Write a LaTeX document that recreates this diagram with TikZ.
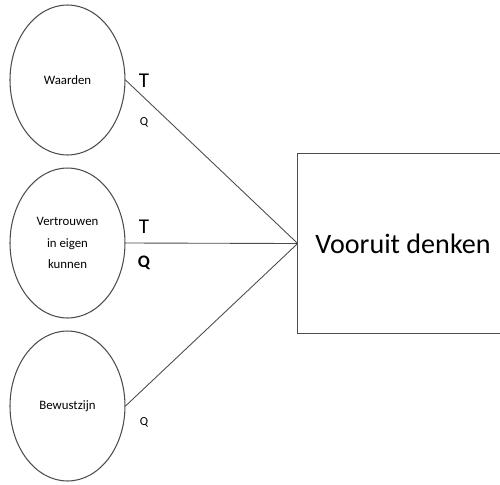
\documentclass[tikz,border=0pt]{standalone}
\usepackage{fontspec}
\setmainfont{Carlito}
\usepackage{tikz}
\usetikzlibrary{shapes.geometric}

\tikzset{
  factor/.style={ellipse,draw=gray!60!black,line width=0.6pt,minimum width=2.3cm,minimum height=3cm,
    inner sep=0pt,align=center,font=\fontsize{7.3}{12}\selectfont},
  doel/.style={rectangle,minimum width=4.5cm,minimum height=3.58cm},
  titel/.style={font=\fontsize{16}{19}\selectfont},
  link/.style={draw=gray!60!black,line width=0.5pt},
  bigT/.style={font=\fontsize{12}{14}\selectfont},
  smallQ/.style={font=\fontsize{7}{9}\selectfont},
  boldQ/.style={font=\fontsize{10}{12}\selectfont\bfseries}
}

\begin{document}
\begin{tikzpicture}[x=0.02cm,y=-0.02cm]
\useasboundingbox (0,0) rectangle (500,484);
\node[factor](waarden) at (67.5,80){Waarden};
\node[factor](vertrouwen) at (67.5,243){Vertrouwen\\in eigen\\kunnen};
\node[factor](bewustzijn) at (67.5,406){Bewustzijn};
\node[doel](denken) at (410.5,243.5){};
% box runs off the right edge
\draw[gray!60!black,line width=0.6pt](denken.north east)--(denken.north west)--(denken.south west)--(denken.south east);
\node[titel](tekst) at (403,243.5){Vooruit denken};
\draw[link](waarden.east)--(denken.west);
\draw[link](vertrouwen.east)--(denken.west);
\draw[link](bewustzijn.east)--(denken.west);
\node[bigT](t1) at (144,81){T};
\node[smallQ](q1) at (144,122){Q};
\node[bigT](t2) at (144,227){T};
\node[boldQ](q2) at (144,263){Q};
\node[smallQ](q3) at (144,422){Q};
\end{tikzpicture}
\end{document}
